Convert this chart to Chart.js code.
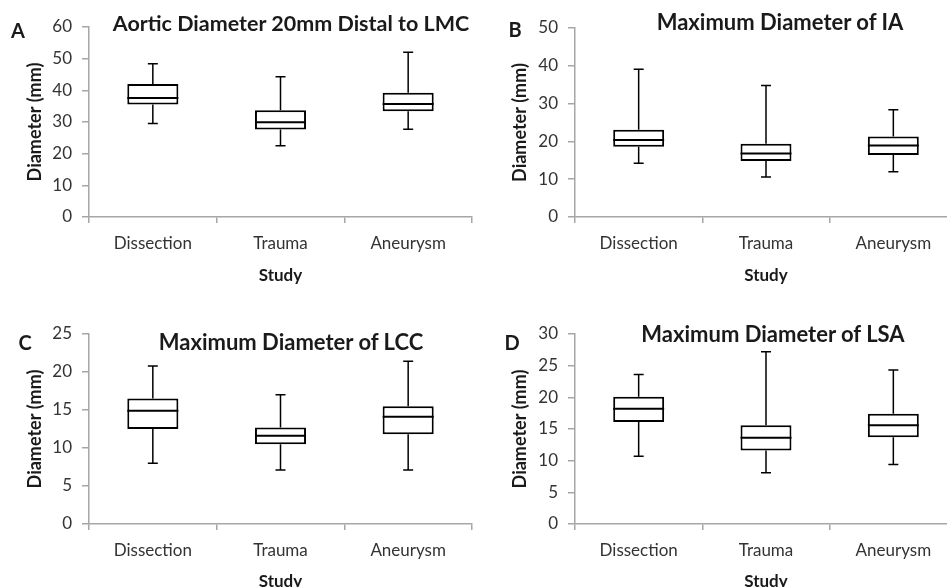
<!DOCTYPE html>
<html>
<head>
<meta charset="utf-8">
<script src="https://cdn.jsdelivr.net/npm/chart.js@4.4.0/dist/chart.umd.min.js"></script>
<style>
html, body { margin: 0; padding: 0; background: #fff; width: 947px; height: 587px; overflow: hidden; position: relative; font-family: Lato, sans-serif; }
.panel { position: absolute; }
.txt { position: absolute; font-weight: bold; color: #1a1a1a; white-space: nowrap; line-height: 1; transform: translate(-50%, -50%); }
</style>
</head>
<body>

<div class="panel" style="left:0;top:0;width:473px;height:290px"><canvas id="chartA"></canvas></div>
<div class="panel" style="left:473px;top:0;width:484px;height:290px"><canvas id="chartB"></canvas></div>
<div class="panel" style="left:0;top:290px;width:473px;height:297px"><canvas id="chartC"></canvas></div>
<div class="panel" style="left:473px;top:290px;width:484px;height:297px"><canvas id="chartD"></canvas></div>

<div class="txt" style="left:18px;top:30px;font-size:20px">A</div>
<div class="txt" style="left:515px;top:29px;font-size:20px">B</div>
<div class="txt" style="left:25px;top:342px;font-size:20px">C</div>
<div class="txt" style="left:512px;top:342px;font-size:20px">D</div>

<div class="txt" style="left:291px;top:24px;font-size:21.5px">Aortic Diameter 20mm Distal to LMC</div>
<div class="txt" style="left:780px;top:22px;font-size:22px">Maximum Diameter of IA</div>
<div class="txt" style="left:291px;top:342px;font-size:22px">Maximum Diameter of LCC</div>
<div class="txt" style="left:773px;top:334px;font-size:22px">Maximum Diameter of LSA</div>

<script>
const categories = ['Dissection', 'Trauma', 'Aneurysm'];

// A: aortic diameter 20mm distal to LMC
const aMin = [29.5, 22.5, 27.7];
const aQ1  = [35.5, 27.6, 33.4];
const aMed = [37.6, 29.9, 35.7];
const aQ3  = [42.0, 33.7, 39.2];
const aMax = [48.4, 44.3, 52.0];

// B: max diameter of IA
const bMin = [14.2, 10.6, 12.0];
const bQ1  = [18.6, 14.8, 16.4];
const bMed = [20.4, 16.8, 18.9];
const bQ3  = [23.1, 19.4, 21.3];
const bMax = [39.1, 34.8, 28.4];

// C: max diameter of LCC
const cMin = [8.0, 7.1, 7.1];
const cQ1  = [12.5, 10.5, 11.8];
const cMed = [14.9, 11.6, 14.1];
const cQ3  = [16.5, 12.7, 15.5];
const cMax = [20.8, 17.0, 21.4];

// D: max diameter of LSA
const dMin = [10.7, 8.1, 9.4];
const dQ1  = [16.1, 11.6, 13.7];
const dMed = [18.2, 13.6, 15.6];
const dQ3  = [20.1, 15.6, 17.4];
const dMax = [23.6, 27.2, 24.3];

const yMaxA = 60, yStepA = 10;
const yMaxB = 50, yStepB = 10;
const yMaxC = 25, yStepC = 5;
const yMaxD = 30, yStepD = 5;

const FONT = 'Lato, sans-serif';
const AXIS = '#a6a6a6';

function whiskers(min, med, max, q1, q3) {
  return {
    id: 'whiskers',
    afterDatasetsDraw(chart) {
      const ctx = chart.ctx, x = chart.scales.x, y = chart.scales.y;
      const meta = chart.getDatasetMeta(0);
      ctx.save();
      ctx.strokeStyle = '#000';
      meta.data.forEach((bar, i) => {
        const cx = x.getPixelForValue(i);
        const half = bar.width / 2;
        const cap = 5;
        ctx.lineWidth = 1.5;
        ctx.beginPath();
        ctx.moveTo(cx, y.getPixelForValue(q3[i]));
        ctx.lineTo(cx, y.getPixelForValue(max[i]));
        ctx.moveTo(cx - cap, y.getPixelForValue(max[i]));
        ctx.lineTo(cx + cap, y.getPixelForValue(max[i]));
        ctx.moveTo(cx, y.getPixelForValue(q1[i]));
        ctx.lineTo(cx, y.getPixelForValue(min[i]));
        ctx.moveTo(cx - cap, y.getPixelForValue(min[i]));
        ctx.lineTo(cx + cap, y.getPixelForValue(min[i]));
        ctx.stroke();
        ctx.lineWidth = 2;
        ctx.beginPath();
        ctx.moveTo(cx - half, y.getPixelForValue(med[i]));
        ctx.lineTo(cx + half, y.getPixelForValue(med[i]));
        ctx.stroke();
      });
      ctx.restore();
    }
  };
}

function makeChart(id, min, q1, med, q3, max, yMax, yStep, padTop, yWidth, yTitlePad, xHeight, xTitlePadBottom, padRight) {
  return new Chart(document.getElementById(id), {
    type: 'bar',
    data: {
      labels: categories,
      datasets: [{
        data: categories.map((c, i) => [q1[i], q3[i]]),
        backgroundColor: '#fff',
        borderColor: '#000',
        borderWidth: 2,
        borderSkipped: false,
        categoryPercentage: 1,
        barPercentage: 0.4
      }]
    },
    options: {
      responsive: true,
      maintainAspectRatio: false,
      animation: false,
      layout: { padding: { top: padTop, left: 0, right: padRight, bottom: 0 } },
      plugins: { legend: { display: false }, tooltip: { enabled: false } },
      scales: {
        x: {
          offset: true,
          grid: { offset: true, drawOnChartArea: false, drawTicks: true, tickLength: 6, color: AXIS, lineWidth: 1.5 },
          border: { color: AXIS, width: 1.5 },
          ticks: { color: '#333', font: { family: FONT, size: 17 }, padding: 10 },
          title: { display: true, text: 'Study', color: '#1a1a1a', font: { family: FONT, size: 17, weight: 'bold' }, padding: { top: 0, bottom: xTitlePadBottom } },
          afterFit(s) { s.height = xHeight; }
        },
        y: {
          min: 0,
          max: yMax,
          grid: { drawOnChartArea: false, drawTicks: true, tickLength: 7, color: AXIS, lineWidth: 1.5 },
          border: { color: AXIS, width: 1.5 },
          ticks: { stepSize: yStep, color: '#333', font: { family: FONT, size: 17 }, padding: 10 },
          title: { display: true, text: 'Diameter (mm)', color: '#1a1a1a', font: { family: FONT, size: 18, weight: 'bold' }, padding: { top: yTitlePad, bottom: 0 } },
          afterFit(s) { s.width = yWidth; }
        }
      }
    },
    plugins: [whiskers(min, med, max, q1, q3)]
  });
}

makeChart('chartA', aMin, aQ1, aMed, aQ3, aMax, yMaxA, yStepA, 27, 89, 24, 73, 4, 1);
makeChart('chartB', bMin, bQ1, bMed, bQ3, bMax, yMaxB, yStepB, 28, 102, 36, 73, 4, 0);
makeChart('chartC', cMin, cQ1, cMed, cQ3, cMax, yMaxC, yStepC, 44, 89, 24, 63, -5, 1);
makeChart('chartD', dMin, dQ1, dMed, dQ3, dMax, yMaxD, yStepD, 44, 102, 36, 63, -5, 0);
</script>
</body>
</html>
